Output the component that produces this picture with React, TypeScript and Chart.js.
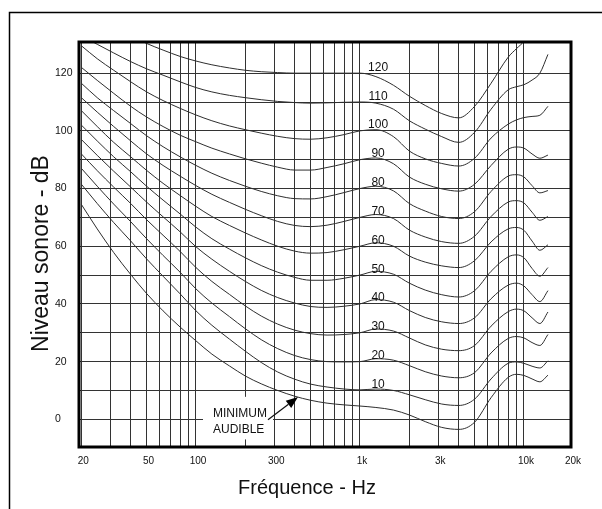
import React, { useEffect, useRef } from "react";
import { Chart, registerables } from "chart.js";

Chart.register(...registerables);

// ---------- data ----------
const FREQ = [20, 25, 31.5, 40, 50, 63, 80, 100, 125, 160, 200, 250, 315, 400, 500, 630, 800, 1000, 1250, 1600, 2000, 2500, 3150, 4000, 5000, 6300, 8000, 9000, 10000, 11200, 12500, 14000];

const PHON_LEVELS = [120, 110, 100, 90, 80, 70, 60, 50, 40, 30, 20, 10, 0];

const CURVE_120 = [142, 139, 136, 133, 130.3, 128, 125.8, 124.2, 122.9, 121.8, 121, 120.5, 120.2, 120, 120, 120, 120, 120, 118.8, 115.8, 112, 108.8, 106, 104.5, 108.5, 116.5, 125.5, 128.5, 131, 135, 139, 144];
const CURVE_110 = [133, 130, 127, 124, 121.5, 119.3, 117, 115, 113.5, 112.3, 111.5, 110.8, 110.2, 109.8, 109.6, 109.7, 109.9, 110, 109.6, 107.5, 103.5, 100.6, 98, 96, 99.5, 107.5, 114.2, 115.3, 116, 117.6, 120, 126.5];
const CURVE_100 = [129.5, 125, 121, 117, 113.5, 110.5, 107.8, 105.5, 103.5, 101.7, 100.4, 99.2, 98.1, 97.3, 97.1, 97.6, 98.7, 100, 100.4, 98, 93, 90.3, 88.7, 87.8, 90.5, 97.5, 102.3, 103.8, 104.6, 105, 105.4, 108.5];
const CURVE_90 = [122, 117.5, 113, 108.5, 104.8, 101.5, 98.5, 96.2, 94, 92, 90.3, 88.8, 87.4, 86.4, 86.4, 87.3, 88.6, 90, 90.6, 88.6, 84, 81.5, 79.9, 79.1, 81.5, 88, 93.6, 94.4, 94, 92, 90.5, 91.6];
const CURVE_80 = [116.5, 111.5, 107, 102.5, 98.3, 94.5, 91, 88, 85.3, 82.8, 80.8, 79, 77.5, 76.5, 76.4, 77.2, 78.6, 80, 80.8, 79.2, 74.8, 72.2, 70.3, 69.6, 72, 79, 84.3, 84.8, 84, 81, 78.5, 79.3];
const CURVE_70 = [111.5, 106.5, 101.5, 96.5, 92, 88, 84.3, 81, 78, 75.2, 72.8, 70.6, 68.6, 67.2, 66.8, 67.3, 68.6, 70, 71, 69.6, 65.6, 63.2, 61.6, 61, 63.5, 70.3, 75.3, 75.8, 75, 71.8, 69, 70.3];
const CURVE_60 = [107, 101.5, 96, 91, 86.3, 81.8, 77.6, 73.8, 70.3, 67.2, 64.6, 62.2, 60, 58.3, 57.6, 57.8, 58.8, 60, 61.2, 60, 56.6, 54.5, 53.2, 52.6, 55, 61.5, 66, 66.5, 65.5, 61.8, 58.6, 60.5];
const CURVE_50 = [102, 96.5, 91, 85.8, 80.8, 76, 71.2, 66.6, 62.6, 59, 56, 53.3, 51, 49.2, 48.2, 48.2, 48.9, 50, 51.3, 50.3, 47.2, 44.8, 43.2, 42.4, 44.6, 51.3, 56.3, 57, 56, 52.3, 49.6, 52.6];
const CURVE_40 = [97, 91.5, 86, 80.5, 75.3, 70.2, 65, 59.8, 55.5, 51.3, 47.8, 44.7, 42.2, 40.3, 39.1, 38.8, 39.2, 40, 41.5, 40.6, 37.7, 35.3, 33.8, 33.2, 35.2, 41.8, 46.5, 47.2, 46.2, 43.2, 40.8, 44.6];
const CURVE_30 = [92, 86.2, 80.5, 74.8, 69.2, 63.8, 58.2, 52.6, 47.8, 43.3, 39.3, 35.8, 33, 30.9, 29.7, 29.2, 29.4, 30, 31.3, 30.6, 28.2, 25.8, 24.3, 23.8, 25.6, 32.3, 37.3, 38.2, 37.6, 35.2, 33.2, 37.2];
const CURVE_20 = [87, 80.8, 74.6, 68.5, 62.6, 56.8, 51, 45.2, 40.3, 35.6, 31.4, 27.6, 24.5, 22.1, 20.7, 20, 19.9, 20, 21, 20.5, 18.6, 16.5, 15, 14.4, 16.2, 23, 28, 28.7, 28.2, 26.6, 25.6, 29.4];
const CURVE_10 = [81.5, 74.8, 68.2, 61.8, 55.6, 49.6, 43.5, 37.6, 32.6, 27.8, 23.6, 19.7, 16.4, 13.9, 12.2, 11.2, 10.5, 10.2, 10.5, 10, 8.5, 6.8, 5.3, 4.8, 7, 14, 19.4, 19.9, 19.4, 18.4, 17.8, 20.3];
const CURVE_MIN = [74.5, 66, 57.8, 50.2, 43.6, 37.6, 32, 27.2, 22.6, 18.5, 15, 12.3, 10, 8, 6.6, 5.6, 5, 4.6, 4.1, 3.2, 1.5, -0.8, -2.8, -3.5, -1, 7.5, 14.5, 15.6, 15.2, 14, 13, 15.3];

const CURVES = [CURVE_120, CURVE_110, CURVE_100, CURVE_90, CURVE_80, CURVE_70, CURVE_60, CURVE_50, CURVE_40, CURVE_30, CURVE_20, CURVE_10, CURVE_MIN];

const CURVE_LABELS = ["120", "110", "100", "90", "80", "70", "60", "50", "40", "30", "20", "10"];
const CURVE_LABEL_FREQ = 1290;
const CURVE_LABEL_DB_OFFSET = 2;

const X_MIN = 19.35;
const X_MAX = 19350;
const Y_MIN = -9.6;
const Y_MAX = 130.8;

const X_GRID_VALUES = [20, 30, 40, 50, 60, 70, 80, 90, 100, 200, 300, 400, 500, 600, 700, 800, 900, 1000, 2000, 3000, 4000, 5000, 6000, 7000, 8000, 9000, 10000];
const X_LABEL_VALUES = [20, 50, 100, 300, 1000, 3000, 10000];
const X_LABEL_TEXT = ["20", "50", "100", "300", "1k", "3k", "10k"];
const X_END_LABEL = "20k";
const Y_GRID_VALUES = [0, 10, 20, 30, 40, 50, 60, 70, 80, 90, 100, 110, 120];
const Y_LABEL_VALUES = [0, 20, 40, 60, 80, 100, 120];

const X_TITLE = "Fréquence - Hz";
const Y_TITLE = "Niveau sonore - dB";
const MIN_TEXT = ["MINIMUM", "AUDIBLE"];
const MIN_TEXT_FREQ = 127;
const MIN_TEXT_DB = [1.9, -3.5];
const MIN_ARROW_TIP = { f: 419, db: 7.7 };

const FONT = '"Liberation Sans", Arial, Helvetica, sans-serif';

const decorPlugin = {
  id: "decor",
  beforeDraw(chart: any) {
    const ctx = chart.ctx;
    ctx.save();
    ctx.fillStyle = "#fff";
    ctx.fillRect(0, 0, chart.width, chart.height);
    ctx.strokeStyle = "#000";
    ctx.lineWidth = 1.5;
    ctx.strokeRect(9.5, 12.5, chart.width + 100, chart.height + 100);
    ctx.restore();
  },
  afterDraw(chart: any) {
    const { ctx, chartArea: a } = chart;
    const xs = chart.scales.x;
    const ys = chart.scales.y;
    ctx.save();

    // minimum audible annotation (white box behind text)
    ctx.font = `12px ${FONT}`;
    const tx = xs.getPixelForValue(MIN_TEXT_FREQ);
    const ty1 = ys.getPixelForValue(MIN_TEXT_DB[0]);
    const ty2 = ys.getPixelForValue(MIN_TEXT_DB[1]);
    const w1 = ctx.measureText(MIN_TEXT[0]).width;
    const w2 = ctx.measureText(MIN_TEXT[1]).width;
    const wMax = Math.max(w1, w2);
    ctx.fillStyle = "#fff";
    ctx.fillRect(tx - 10, ty1 - 17, wMax + 16, ty2 - ty1 + 27);
    ctx.fillStyle = "#111";
    ctx.textAlign = "left";
    ctx.textBaseline = "middle";
    ctx.fillText(MIN_TEXT[0], tx, ty1);
    ctx.fillText(MIN_TEXT[1], tx, ty2);

    // arrow
    const tipX = xs.getPixelForValue(MIN_ARROW_TIP.f);
    const tipY = ys.getPixelForValue(MIN_ARROW_TIP.db);
    const sx = tx + w1 + 1;
    const sy = ty1 + 6;
    const dx = tipX - sx;
    const dy = tipY - sy;
    const len = Math.hypot(dx, dy);
    const ux = dx / len;
    const uy = dy / len;
    const bx = tipX - ux * 12;
    const by = tipY - uy * 12;
    ctx.strokeStyle = "#111";
    ctx.lineWidth = 1.2;
    ctx.beginPath();
    ctx.moveTo(sx, sy);
    ctx.lineTo(bx, by);
    ctx.stroke();
    ctx.fillStyle = "#000";
    ctx.beginPath();
    ctx.moveTo(tipX, tipY);
    ctx.lineTo(bx - uy * 4.5, by + ux * 4.5);
    ctx.lineTo(bx + uy * 4.5, by - ux * 4.5);
    ctx.closePath();
    ctx.fill();

    // plot border
    ctx.strokeStyle = "#000";
    ctx.lineWidth = 3;
    ctx.strokeRect(a.left, a.top, a.right - a.left, a.bottom - a.top);

    // curve labels
    ctx.fillStyle = "#111";
    ctx.font = `12px ${FONT}`;
    ctx.textAlign = "center";
    ctx.textBaseline = "middle";
    CURVE_LABELS.forEach((t, i) => {
      ctx.fillText(
        t,
        xs.getPixelForValue(CURVE_LABEL_FREQ),
        ys.getPixelForValue(PHON_LEVELS[i] + CURVE_LABEL_DB_OFFSET)
      );
    });

    // axis titles
    ctx.fillStyle = "#111";
    ctx.font = `20px ${FONT}`;
    ctx.textAlign = "center";
    ctx.textBaseline = "alphabetic";
    ctx.fillText(X_TITLE, 307, 494);

    ctx.save();
    ctx.translate(47.5, 253.5);
    ctx.rotate(-Math.PI / 2);
    ctx.font = `23px ${FONT}`;
    ctx.textAlign = "center";
    ctx.textBaseline = "alphabetic";
    ctx.fillText(Y_TITLE, 0, 0);
    ctx.restore();

    ctx.restore();
  },
};

export default function App() {
  const canvasRef = useRef<HTMLCanvasElement | null>(null);

  useEffect(() => {
    const canvas = canvasRef.current;
    if (!canvas) return;
    const chart = new Chart(canvas, {
      type: "line",
      data: {
        datasets: CURVES.map((vals, i) => ({
          label: String(PHON_LEVELS[i]),
          data: FREQ.map((f, j) => ({ x: f, y: vals[j] })),
          borderColor: "#2e2e2e",
          borderWidth: 1,
          pointRadius: 0,
          fill: false,
          cubicInterpolationMode: "monotone" as const,
        })),
      },
      options: {
        responsive: false,
        animation: false,
        devicePixelRatio: 1,
        layout: { padding: { left: 55, right: 31, top: 42, bottom: 0 } },
        plugins: {
          legend: { display: false },
          tooltip: { enabled: false },
          title: { display: false },
        },
        scales: {
          x: {
            type: "logarithmic",
            position: "bottom",
            min: X_MIN,
            max: X_MAX,
            afterBuildTicks: (s: any) => {
              s.ticks = [...X_GRID_VALUES, X_MAX].map((v) => ({ value: v }));
            },
            afterFit: (s: any) => {
              s.height = 62;
            },
            ticks: {
              autoSkip: false,
              maxRotation: 0,
              minRotation: 0,
              padding: 8,
              labelOffset: 2,
              color: "#111",
              font: { family: FONT, size: 10 },
              callback: (v: any) => {
                if (v === X_MAX) return X_END_LABEL;
                const k = X_LABEL_VALUES.indexOf(v);
                return k >= 0 ? X_LABEL_TEXT[k] : "";
              },
            },
            grid: { color: "#333", lineWidth: 1, drawTicks: false },
            border: { display: false },
          },
          y: {
            type: "linear",
            position: "left",
            min: Y_MIN,
            max: Y_MAX,
            afterBuildTicks: (s: any) => {
              s.ticks = Y_GRID_VALUES.map((v) => ({ value: v }));
            },
            afterFit: (s: any) => {
              s.width = 24;
            },
            ticks: {
              autoSkip: false,
              crossAlign: "far",
              padding: 0,
              color: "#111",
              font: { family: FONT, size: 10.5 },
              callback: (v: any) => (Y_LABEL_VALUES.includes(v) ? String(v) : ""),
            },
            grid: { color: "#333", lineWidth: 1, drawTicks: false },
            border: { display: false },
          },
        },
      },
      plugins: [decorPlugin],
    } as any);
    return () => chart.destroy();
  }, []);

  return (
    <div style={{ position: "fixed", left: 0, top: 0, width: 602, height: 509, background: "#fff" }}>
      <canvas ref={canvasRef} width={602} height={509} style={{ display: "block" }} />
    </div>
  );
}
